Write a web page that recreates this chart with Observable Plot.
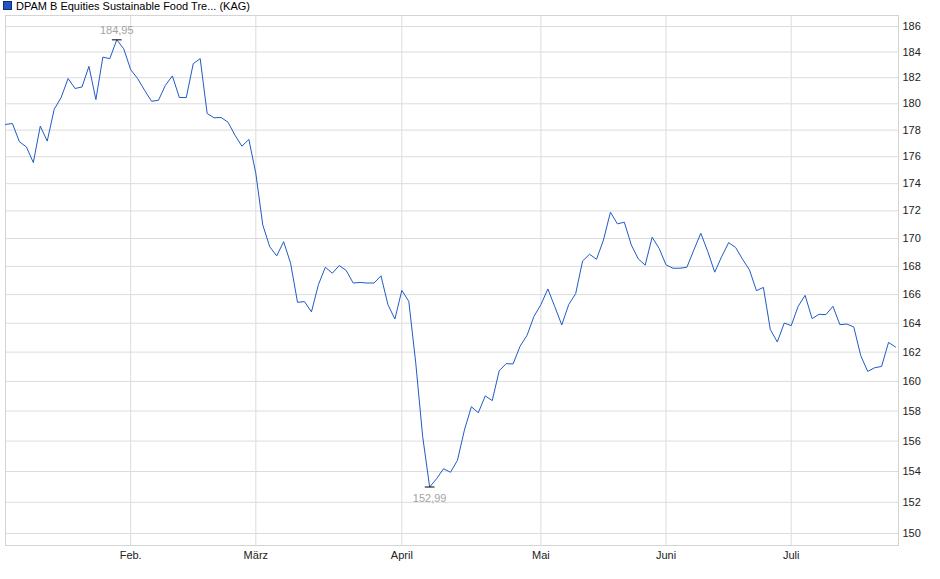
<!DOCTYPE html>
<html><head><meta charset="utf-8">
<script src="https://cdn.jsdelivr.net/npm/d3@7"></script>
<script src="https://cdn.jsdelivr.net/npm/@observablehq/plot@0.6"></script>
<style>
body{margin:0;background:#fff;font-family:"Liberation Sans",Arial,sans-serif;}
#wrap{position:relative;width:940px;height:579px;}
#legend{position:absolute;left:3px;top:0px;font-size:11px;color:#000;line-height:13px;white-space:nowrap;z-index:2;}
#legend span.sw{display:inline-block;width:7px;height:7px;background:#1f55c0;border:1px solid #0d2e7a;margin-right:4px;vertical-align:0px;}
</style></head>
<body><div id="wrap"><div id="legend"><span class="sw"></span>DPAM B Equities Sustainable Food Tre... (KAG)</div></div>
<script>
const seriesName = "DPAM B Equities Sustainable Food Tre... (KAG)";
const prices = [178.43,178.5,177.12,176.74,175.57,178.30,177.17,179.58,180.48,181.94,181.17,181.29,182.88,180.32,183.6,183.48,184.95,184.25,182.63,
181.94,181.04,180.19,180.27,181.42,182.14,180.48,180.48,183.09,183.48,179.26,178.93,178.96,178.6,177.62,176.79,177.3,
174.76,170.98,169.41,168.75,169.77,168.23,165.46,165.51,164.79,166.70,167.94,167.52,168.06,167.71,166.82,166.86,166.82,166.82,167.33,165.30,164.29,
166.30,165.53,161.26,156.29,152.99,153.53,154.18,153.95,154.73,156.73,158.29,157.89,159.02,158.70,160.72,161.21,161.19,162.40,163.15,164.47,
165.3,166.4,165.15,163.88,165.3,166.07,168.39,168.87,168.51,169.89,171.91,171.06,171.18,169.54,168.54,168.09,170.09,169.29,
168.11,167.87,167.87,167.94,169.18,170.38,169.06,167.59,168.7,169.7,169.36,168.51,167.75,166.28,166.51,163.55,162.70,164.01,
163.83,165.18,165.95,164.32,164.62,164.6,165.18,163.9,163.94,163.74,161.76,160.68,160.93,161.02,162.67,162.35];
const monthLabels = ["Feb.","März","April","Mai","Juni","Juli"];
const monthStartIndex = [18,36,57,77,95,113];
const yTicks = d3.range(150,187,2);

const data = prices.map((v,i)=>({i, v}));
const maxD = data.reduce((a,b)=>b.v>a.v?b:a);
const minD = data.reduce((a,b)=>b.v<a.v?b:a);
const fmt = v => v.toFixed(2).replace(".", ",");
const monthTicks = monthStartIndex.map((i,k)=>({i, label: monthLabels[k]}));

const chart = Plot.plot({
  width: 940, height: 579,
  marginLeft: 5, marginRight: 42, marginTop: 15, marginBottom: 34,
  style: {fontFamily: "'Liberation Sans', Arial, sans-serif", fontSize: "11px", background: "transparent"},
  x: {type: "linear", domain: [0, 128.43], axis: null},
  y: {type: "log", domain: [149.24, 186.87], axis: null},
  marks: [
    Plot.gridY(yTicks, {stroke: "#dcdcdc", strokeOpacity: 1}),
    Plot.gridX(monthStartIndex, {stroke: "#dcdcdc", strokeOpacity: 1}),
    Plot.gridX([0], {stroke: "#dcdcdc", strokeOpacity: 1}),
    Plot.frame({stroke: "#d4d4d4"}),
    Plot.axisY(yTicks, {anchor: "right", label: null, tickSize: 0, tickPadding: 4, tickFormat: d => String(d), fill: "#222", fontSize: 11}),
    Plot.text(monthTicks, {x: "i", text: "label", frameAnchor: "bottom", dy: 13, fill: "#222", fontSize: 11}),
    Plot.line(data, {x: "i", y: "v", stroke: "#1f5bc6", strokeWidth: 1}),
    Plot.link([maxD, minD], {x1: d => d.i - 0.7, x2: d => d.i + 0.7, y1: "v", y2: "v", stroke: "#000", strokeWidth: 1}),
    Plot.text([maxD], {x: "i", y: "v", text: d => fmt(d.v), dy: -9, fill: "#a3a3a3", fontSize: 11}),
    Plot.text([minD], {x: "i", y: "v", text: d => fmt(d.v), dy: 11, fill: "#a3a3a3", fontSize: 11})
  ]
});
chart.style.position = "absolute";
chart.style.left = "0px";
chart.style.top = "0px";
document.getElementById("wrap").appendChild(chart);
</script>
</body></html>
